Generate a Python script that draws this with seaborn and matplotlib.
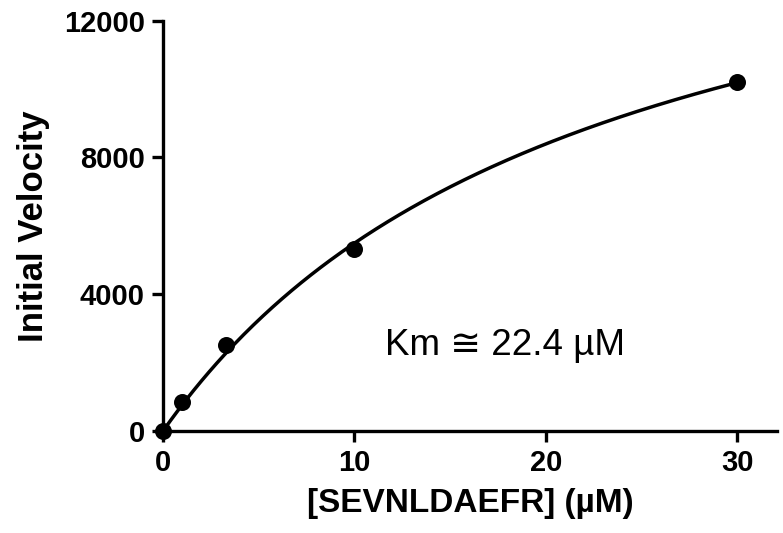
import numpy as np
import pandas as pd
import matplotlib
matplotlib.use("Agg")
import matplotlib.pyplot as plt
import seaborn as sns

# Substrate concentrations (µM) and measured initial velocities
substrate = [0, 1, 3.3, 10, 30]
velocity = [0, 857, 2515, 5320, 10213]

# Michaelis-Menten fit parameters
km = 22.4
vmax = 17800

x_ticks = [0, 10, 20, 30]
y_ticks = [0, 4000, 8000, 12000]

sns.set_style("ticks")
plt.rcParams["font.family"] = ["Liberation Sans", "DejaVu Sans"]
plt.rcParams["text.color"] = "black"
plt.rcParams["axes.labelcolor"] = "black"
plt.rcParams["xtick.color"] = "black"
plt.rcParams["ytick.color"] = "black"

fig = plt.figure(figsize=(7.83, 5.33), dpi=100)
ax = fig.add_axes([163 / 783, 1 - 431 / 533, (777 - 163) / 783, (431 - 20.7) / 533])

pts = pd.DataFrame({"S": substrate, "V": velocity})
s_fit = np.linspace(0, max(substrate), 300)
fit = pd.DataFrame({"S": s_fit, "V": vmax * s_fit / (km + s_fit)})

sns.lineplot(data=fit, x="S", y="V", ax=ax, color="black", linewidth=2.5, clip_on=False)
sns.scatterplot(data=pts, x="S", y="V", ax=ax, color="black", s=150, edgecolor="black",
                linewidth=0, zorder=5, clip_on=False)

ax.set_xlim(0, 32.07)
ax.set_ylim(0, 12000)
ax.set_xticks(x_ticks)
ax.set_yticks(y_ticks)
ax.set_xticklabels([str(t) for t in x_ticks], fontsize=21, fontweight="bold")
ax.set_yticklabels([str(t) for t in y_ticks], fontsize=21, fontweight="bold")
ax.tick_params(axis="both", length=8, width=2.4, color="black", labelcolor="black", pad=5)

for side in ("left", "bottom"):
    ax.spines[side].set_linewidth(2.4)
    ax.spines[side].set_color("black")
sns.despine(ax=ax)

ax.set_xlabel("[SEVNLDAEFR] (µM)", fontsize=24, fontweight="bold", labelpad=8)
ax.set_ylabel("Initial Velocity", fontsize=25, fontweight="bold", labelpad=10)

ax.text(17.85, 2500, "Km ≅ 22.4 µM", fontsize=26.5, ha="center", va="center", color="black")

fig.savefig("out.png", dpi=100)
